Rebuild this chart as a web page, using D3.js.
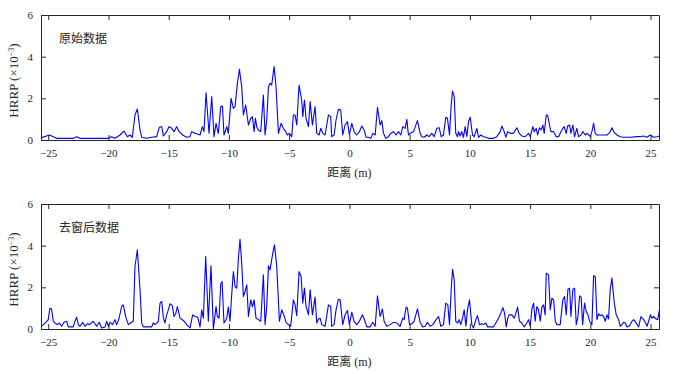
<!DOCTYPE html>
<html>
<head>
<meta charset="utf-8">
<script src="https://cdn.jsdelivr.net/npm/d3@7"></script>
<style>
  body { margin: 0; background: #fff; }
  svg text { font-family: "Liberation Serif", "Times New Roman", "DejaVu Serif", serif; fill: #262626; }
  svg text.cjk, svg tspan.cjk { font-family: "Noto Sans CJK SC", sans-serif; }
</style>
</head>
<body>
<div id="chart"></div>
<script>
'use strict';

// range axis (m) and HRRP amplitude (x1e-3)
var rawX = [-25.69,-24.91,-24.58,-24.30,-22.92,-22.64,-22.37,-20.01,-19.74,-19.46,-19.04,-18.71,-18.43,-18.21,-18.02,-17.80,-17.60,-17.38,-17.24,-16.83,-16.41,-16.00,-15.78,-15.58,-15.44,-15.17,-14.97,-14.75,-14.56,-14.34,-14.12,-13.84,-13.51,-13.23,-13.09,-12.81,-12.40,-12.21,-12.07,-11.90,-11.65,-11.43,-11.24,-11.07,-10.88,-10.68,-10.54,-10.41,-10.18,-10.05,-9.82,-9.63,-9.49,-9.30,-9.13,-8.94,-8.80,-8.61,-8.38,-8.19,-8.05,-7.91,-7.80,-7.69,-7.55,-7.36,-7.14,-7.00,-6.86,-6.72,-6.59,-6.45,-6.25,-6.09,-5.89,-5.67,-5.48,-5.28,-5.15,-4.98,-4.79,-4.65,-4.51,-4.37,-4.18,-3.96,-3.87,-3.73,-3.60,-3.40,-3.26,-3.07,-2.85,-2.71,-2.52,-2.38,-2.21,-2.02,-1.74,-1.55,-1.47,-1.27,-1.11,-0.91,-0.72,-0.55,-0.36,-0.16,0.00,0.20,0.39,0.61,0.83,1.03,1.22,1.39,1.58,1.78,1.94,2.14,2.33,2.55,2.69,2.83,3.02,3.24,3.44,3.66,3.88,4.07,4.27,4.43,4.63,4.77,4.90,5.04,5.32,5.65,5.87,6.01,6.20,6.43,6.62,6.84,7.04,7.26,7.45,7.62,7.81,8.00,8.14,8.31,8.45,8.56,8.70,8.83,8.97,9.06,9.19,9.33,9.47,9.61,9.75,9.89,10.03,10.22,10.36,10.58,10.72,10.91,11.13,11.33,11.55,11.96,12.24,12.52,12.66,12.85,12.99,13.13,13.35,13.62,13.90,14.10,14.32,14.59,14.87,15.01,15.23,15.34,15.51,15.62,15.78,15.92,16.06,16.17,16.34,16.45,16.61,16.73,16.95,17.17,17.36,17.56,17.72,17.83,18.00,18.11,18.28,18.39,18.55,18.69,18.88,19.02,19.22,19.38,19.58,19.72,19.99,20.13,20.27,20.41,20.55,20.82,21.10,21.38,21.60,21.79,21.99,22.21,22.48,22.76,23.31,23.87,24.14,24.42,24.70,24.98,25.25,25.53,25.75];
var rawY = [0.08,0.24,0.16,0.08,0.08,0.16,0.08,0.08,0.16,0.08,0.24,0.43,0.16,0.24,0.13,1.20,1.49,0.48,0.13,0.08,0.13,0.16,0.61,0.64,0.19,0.40,0.64,0.56,0.40,0.64,0.40,0.24,0.13,0.16,0.40,0.32,0.24,0.64,0.40,2.27,0.32,2.08,0.16,0.80,0.32,1.60,1.63,0.24,0.64,0.32,2.00,1.52,1.60,2.72,3.39,2.56,1.20,1.68,0.72,1.04,1.12,0.40,1.04,0.64,0.48,0.40,2.16,0.24,0.96,2.56,2.72,2.64,3.52,2.56,0.32,0.80,0.56,0.40,0.24,0.32,0.16,1.20,1.20,0.72,2.64,1.92,1.12,1.92,1.04,0.64,1.84,0.72,1.60,0.32,0.24,0.56,0.32,0.24,1.20,1.12,0.16,0.24,0.96,1.47,1.44,0.24,0.72,0.88,0.24,0.80,0.40,0.24,0.40,0.67,0.48,0.13,0.13,0.08,0.32,0.24,1.57,0.72,0.93,0.32,0.08,0.16,0.32,0.40,0.24,0.40,0.24,0.64,0.56,0.99,0.24,0.32,0.40,0.93,0.32,0.16,0.13,0.24,0.16,0.32,0.16,0.56,0.59,0.16,0.24,1.09,1.04,0.24,1.68,2.35,2.08,0.32,0.16,0.40,0.19,0.40,0.13,0.64,0.16,0.88,1.09,0.24,0.16,0.56,0.13,0.24,0.16,0.13,0.08,0.08,0.16,0.40,0.67,0.40,0.13,0.40,0.32,0.32,0.59,0.32,0.19,0.16,0.32,0.16,0.64,0.40,0.56,0.24,0.59,0.48,0.72,0.32,1.20,1.20,0.72,0.40,0.40,0.16,0.16,0.40,0.56,0.64,0.32,0.67,0.72,0.32,0.72,0.16,0.56,0.16,0.24,0.40,0.24,0.32,0.16,0.40,0.80,0.32,0.24,0.24,0.24,0.24,0.35,0.59,0.35,0.24,0.16,0.13,0.13,0.16,0.16,0.19,0.13,0.24,0.13,0.16,0.19];

var winX = [-25.55,-25.13,-25.00,-24.86,-24.72,-24.58,-24.44,-24.25,-24.08,-23.89,-23.69,-23.47,-23.33,-22.92,-22.78,-22.64,-22.50,-22.37,-22.14,-21.95,-21.76,-21.59,-21.26,-20.98,-20.76,-20.57,-20.29,-20.15,-20.01,-19.87,-19.65,-19.46,-19.32,-19.13,-18.91,-18.77,-18.54,-18.35,-18.16,-17.94,-17.80,-17.60,-17.38,-17.24,-17.11,-16.41,-16.28,-16.14,-15.86,-15.72,-15.58,-15.44,-15.31,-15.17,-15.03,-14.89,-14.70,-14.56,-14.42,-14.28,-14.06,-13.78,-13.51,-13.23,-13.01,-12.81,-12.59,-12.40,-12.26,-12.12,-11.93,-11.71,-11.49,-11.29,-11.07,-10.96,-10.82,-10.68,-10.57,-10.41,-10.18,-10.05,-9.91,-9.77,-9.63,-9.49,-9.35,-9.22,-9.08,-8.94,-8.80,-8.66,-8.52,-8.38,-8.19,-8.05,-7.91,-7.75,-7.55,-7.36,-7.14,-7.00,-6.86,-6.72,-6.59,-6.36,-6.22,-6.03,-5.81,-5.62,-5.42,-5.26,-5.06,-4.87,-4.65,-4.51,-4.37,-4.18,-4.01,-3.87,-3.73,-3.60,-3.40,-3.26,-3.07,-2.85,-2.71,-2.57,-2.43,-2.29,-2.02,-1.74,-1.55,-1.47,-1.27,-1.11,-0.91,-0.77,-0.55,-0.36,-0.16,0.00,0.20,0.39,0.61,0.83,1.08,1.30,1.44,1.72,1.94,2.14,2.33,2.55,2.74,2.88,3.10,3.38,3.66,3.93,4.21,4.43,4.54,4.71,4.82,4.99,5.18,5.37,5.65,5.87,6.09,6.29,6.48,6.70,6.92,7.20,7.40,7.59,7.81,8.00,8.17,8.31,8.45,8.56,8.70,8.83,9.00,9.11,9.25,9.39,9.53,9.67,9.80,9.97,10.16,10.30,10.50,10.63,10.80,10.99,11.13,11.33,11.47,11.96,12.38,12.57,12.74,12.88,13.02,13.15,13.26,13.49,13.68,13.82,13.96,14.12,14.32,14.51,14.73,14.87,15.01,15.15,15.29,15.42,15.56,15.70,15.84,15.98,16.12,16.25,16.34,16.53,16.67,16.81,16.95,17.09,17.22,17.50,17.72,17.86,18.00,18.14,18.28,18.39,18.55,18.69,18.83,18.97,19.11,19.24,19.36,19.52,19.66,19.80,19.94,20.13,20.27,20.41,20.55,20.68,20.82,20.96,21.10,21.24,21.38,21.51,21.65,21.79,21.99,22.15,22.35,22.48,22.62,22.76,22.90,23.04,23.26,23.45,23.59,23.81,24.01,24.20,24.42,24.56,24.70,24.84,24.98,25.11,25.25,25.45,25.59,25.75];
var winY = [0.13,0.37,0.45,1.00,0.96,0.37,0.29,0.21,0.29,0.13,0.32,0.37,0.10,0.10,0.37,0.56,0.21,0.13,0.32,0.13,0.25,0.21,0.37,0.13,0.32,0.05,0.10,0.37,0.13,0.32,0.21,0.45,0.21,0.48,1.08,1.16,0.52,0.21,0.29,0.37,3.00,3.80,1.88,0.29,0.10,0.10,0.29,0.21,0.37,1.24,1.32,0.52,0.29,0.68,0.92,1.21,1.12,0.60,0.73,1.08,0.52,0.41,0.21,0.05,0.68,0.60,0.56,0.10,0.92,0.52,3.48,0.37,3.03,0.00,1.08,0.60,0.52,2.15,2.28,0.29,0.52,1.05,0.37,1.64,2.76,2.04,1.96,3.32,4.31,3.16,1.56,1.80,2.12,0.60,1.40,1.08,1.40,0.52,0.45,0.37,2.60,0.21,1.08,3.03,2.84,3.64,4.04,3.00,0.37,0.92,0.64,0.32,0.21,0.13,1.40,1.16,0.64,2.76,2.52,1.24,1.96,1.08,0.68,1.88,0.68,1.53,0.29,0.48,0.52,0.21,0.13,1.16,1.08,0.13,0.21,0.92,1.43,1.40,0.21,0.68,0.89,0.21,0.80,0.37,0.21,0.37,0.68,0.37,0.10,0.10,0.32,0.13,1.59,0.60,0.96,0.37,0.13,0.21,0.32,0.29,0.13,0.52,0.45,1.05,1.00,0.21,0.25,0.37,0.97,0.32,0.10,0.13,0.32,0.13,0.21,0.45,0.60,0.13,0.21,1.24,1.16,0.21,1.88,2.87,2.36,0.37,0.29,0.45,0.21,0.52,0.92,0.13,0.92,1.40,0.21,0.05,0.45,0.64,0.21,0.25,0.21,0.29,0.10,0.10,0.52,0.76,1.03,0.76,0.10,0.52,0.68,0.68,0.52,0.76,1.05,0.37,0.29,0.10,0.29,0.45,0.13,0.96,1.24,0.37,1.08,0.92,0.37,1.05,1.16,0.68,2.68,2.60,0.92,1.48,1.40,0.37,0.21,0.21,1.40,1.56,0.68,1.91,1.96,0.60,1.91,1.96,0.21,0.60,1.59,1.53,0.21,1.24,0.84,0.68,0.37,0.21,2.55,2.52,0.45,0.73,0.64,0.68,0.60,0.37,0.68,0.48,1.88,2.44,1.24,0.68,0.45,0.13,0.21,0.32,0.29,0.10,0.16,0.37,0.45,0.29,0.10,0.60,0.45,0.32,0.13,0.37,0.68,0.52,0.60,0.48,0.45,0.96];

var xTicks = [-25, -20, -15, -10, -5, 0, 5, 10, 15, 20, 25];
var yTicks = [0, 2, 4, 6];
var panelTitles = ['原始数据', '去窗后数据'];

var width = 677, height = 374;
var margin = { left: 41, right: 18 };
var panelTops = [15, 204];
var panelH = 125;
var tickLen = 5;
var serif = '"Liberation Serif", "Times New Roman", "DejaVu Serif", serif';

var svg = d3.select('#chart')
  .append('svg')
  .attr('width', width)
  .attr('height', height);

var x = d3.scaleLinear()
  .domain([-25.6, 25.7])
  .range([margin.left, width - margin.right]);

var series = [
  { xs: rawX, ys: rawY },
  { xs: winX, ys: winY }
];

series.forEach(function(s, i) {
  var top = panelTops[i];
  var y = d3.scaleLinear().domain([0, 6]).range([top + panelH, top]);
  var g = svg.append('g');

  g.append('clipPath').attr('id', 'clip' + i)
    .append('rect')
    .attr('x', x.range()[0]).attr('y', top)
    .attr('width', x.range()[1] - x.range()[0]).attr('height', panelH);

  var pts = s.xs.map(function(v, k) { return [v, s.ys[k]]; });
  var line = d3.line()
    .x(function(d) { return x(d[0]); })
    .y(function(d) { return y(d[1]); });

  g.append('path')
    .datum(pts)
    .attr('clip-path', 'url(#clip' + i + ')')
    .attr('d', line)
    .attr('fill', 'none')
    .attr('stroke', '#0000ff')
    .attr('stroke-width', 1.1)
    .attr('stroke-linejoin', 'round');

  // axes, MATLAB style: ticks pointing inward on all four sides
  g.append('g')
    .attr('transform', 'translate(0,' + (top + panelH) + ')')
    .call(d3.axisBottom(x).tickValues(xTicks).tickFormat(d3.format('d'))
      .tickSizeInner(-tickLen).tickSizeOuter(0).tickPadding(9));
  g.append('g')
    .attr('transform', 'translate(0,' + top + ')')
    .call(d3.axisTop(x).tickValues(xTicks).tickSizeInner(-tickLen).tickSizeOuter(0).tickFormat(''));
  g.append('g')
    .attr('transform', 'translate(' + x.range()[0] + ',0)')
    .call(d3.axisLeft(y).tickValues(yTicks).tickFormat(d3.format('d'))
      .tickSizeInner(-tickLen).tickSizeOuter(0).tickPadding(8));
  g.append('g')
    .attr('transform', 'translate(' + x.range()[1] + ',0)')
    .call(d3.axisRight(y).tickValues(yTicks).tickSizeInner(-tickLen).tickSizeOuter(0).tickFormat(''));

  g.selectAll('.domain, .tick line').attr('stroke', '#262626').attr('stroke-width', 1);
  g.selectAll('g').attr('font-family', serif);
  g.selectAll('.tick text').attr('font-size', 11).attr('fill', '#262626');

  g.append('text')
    .attr('class', 'cjk')
    .attr('x', 59).attr('y', top + 28)
    .attr('font-size', 12)
    .text(panelTitles[i]);

  var xl = g.append('text')
    .attr('x', x(0)).attr('y', top + panelH + 37)
    .attr('text-anchor', 'middle')
    .attr('font-size', 12);
  xl.append('tspan').attr('class', 'cjk').text('距离');
  xl.append('tspan').text(' (m)');

  var yl = g.append('text')
    .attr('transform', 'translate(18,' + (top + panelH / 2 + 3) + ') rotate(-90)')
    .attr('text-anchor', 'middle')
    .attr('font-size', 13);
  yl.append('tspan').text('HRRP (×10');
  yl.append('tspan').attr('baseline-shift', 'super').attr('font-size', 8).text('−3');
  yl.append('tspan').text(')');
});
</script>
</body>
</html>
